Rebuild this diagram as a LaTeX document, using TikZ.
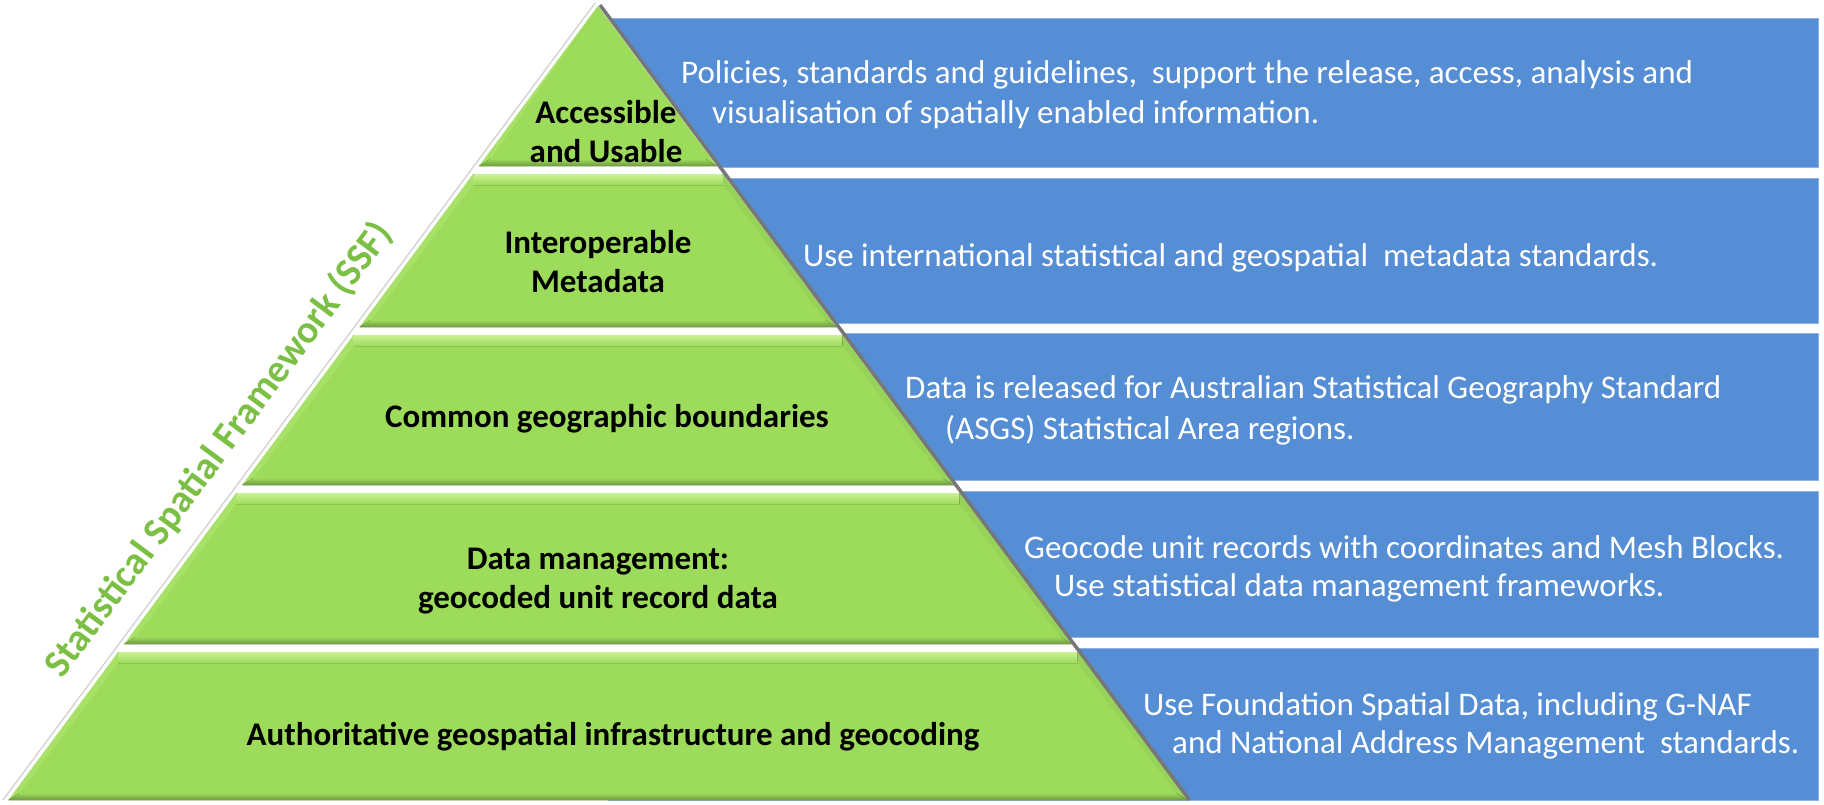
\documentclass[tikz,border=0pt]{standalone}
\usepackage{fontspec}
\setmainfont{Carlito}
\definecolor{boxblue}{HTML}{558ED5}
\definecolor{boxedge}{HTML}{8DB3E2}
\definecolor{pyrgreen}{HTML}{9DDB5B}
\definecolor{bevlight}{HTML}{C9F290}
\definecolor{bevdark}{HTML}{6E9940}
\definecolor{ssfgreen}{HTML}{7CBF45}
\definecolor{edgegray}{HTML}{777777}
\definecolor{shadowgray}{HTML}{CFCFCF}
\newcommand{\xl}[1]{598-0.7424*(#1-6)}
\newcommand{\xr}[1]{598+0.7424*(#1-6)}
\newcommand{\pyrlayer}[2]{%
  \fill[pyrgreen] ({\xl{#1}},#1) -- ({\xr{#1}},#1) -- ({\xr{#2}},#2) -- ({\xl{#2}},#2) -- cycle;
  \fill[pyrgreen!75!bevlight] ({\xl{#1}},#1) -- ({\xl{#1+11}+8},#1+11) -- ({\xl{#2-7}+6},#2-7) -- ({\xl{#2}},#2) -- cycle;
  \fill[pyrgreen!88!bevdark] ({\xr{#1}},#1) -- ({\xr{#1+11}-8},#1+11) -- ({\xr{#2-7}-6},#2-7) -- ({\xr{#2}},#2) -- cycle;
  \fill[top color=bevlight,bottom color=pyrgreen] ({\xl{#1}},#1) -- ({\xr{#1}},#1) -- ({\xr{#1+11}-8},#1+11) -- ({\xl{#1+11}+8},#1+11) -- cycle;
  \fill[top color=pyrgreen,bottom color=bevdark] ({\xl{#2-7}+6},#2-7) -- ({\xr{#2-7}-6},#2-7) -- ({\xr{#2}},#2) -- ({\xl{#2}},#2) -- cycle;
}
\tikzset{
  pyrtext/.style={font=\bfseries\fontsize{33}{39}\selectfont, align=center, text=black, inner sep=0pt},
  boxtext/.style={font=\fontsize{33}{40}\selectfont, text=white, anchor=west, inner sep=0pt},
  ssftext/.style={font=\bfseries\fontsize{39}{46}\selectfont, text=ssfgreen, rotate=53.4, inner sep=0pt},
  bluebox/.style={fill=boxblue, draw=boxedge, line width=1pt}
}
\begin{document}
\begin{tikzpicture}[x=1pt,y=-1pt]
\useasboundingbox (0,0) rectangle (1824,804);
\fill[white] (0,0) rectangle (1824,804);
% blue boxes
\foreach \t/\b in {18/167, 178/323, 333/480, 491/637, 648/800}
  \filldraw[bluebox] (608,\t) rectangle (1818,\b);
% white backing of the pyramid
\fill[white] (598,2) -- (1189,800) -- (4,800) -- cycle;
\draw[shadowgray, line width=1.2pt] (595,3) -- (3,800);
% apex layer
\fill[pyrgreen] (598,6) -- ({\xr{166}},166) -- ({\xl{166}},166) -- cycle;
\fill[pyrgreen!75!bevlight] (598,6) -- ({\xl{166-7}+6},166-7) -- ({\xl{166}},166) -- cycle;
\fill[top color=pyrgreen,bottom color=bevdark] ({\xl{159}+6},159) -- ({\xr{159}-6},159) -- ({\xr{166}},166) -- ({\xl{166}},166) -- cycle;
% other layers
\pyrlayer{174}{327}
\pyrlayer{335}{485}
\pyrlayer{493}{644}
\pyrlayer{652}{800}
% right shadow edge
\draw[edgegray, line width=3.5pt] (600,5) -- (1189.5,800);
% pyramid texts
\node[pyrtext] (l1) at (606,132) {Accessible\\and Usable};
\node[pyrtext] (l2) at (598,262) {Interoperable\\Metadata};
\node[pyrtext] (l3) at (607,419) {Common geographic boundaries};
\node[pyrtext] (l4) at (598,581) {Data management:\\geocoded unit record data};
\node[pyrtext] (l5) at (613,737) {Authoritative geospatial infrastructure and geocoding};
% box texts
\node[boxtext] (b1a) at (681,75) {Policies, standards and guidelines,\ \ support the release, access, analysis and};
\node[boxtext] (b1b) at (712,115) {visualisation of spatially enabled information.};
\node[boxtext] (b2) at (803,258) {Use international statistical and geospatial\ \ metadata standards.};
\node[boxtext] (b3a) at (905,390) {Data is released for Australian Statistical Geography Standard};
\node[boxtext] (b3b) at (945,430) {(ASGS) Statistical Area regions.};
\node[boxtext] (b4a) at (1024,547) {Geocode unit records with coordinates and Mesh Blocks.};
\node[boxtext] (b4b) at (1054,588) {Use statistical data management frameworks.};
\node[boxtext] (b5a) at (1143,707) {Use Foundation Spatial Data, including G-NAF};
\node[boxtext] (b5b) at (1172,745) {and National Address Management\ \ standards.};
% side label
\node[ssftext] (ssf) at (219,450) {Statistical Spatial Framework (SSF)};
\end{tikzpicture}
\end{document}
